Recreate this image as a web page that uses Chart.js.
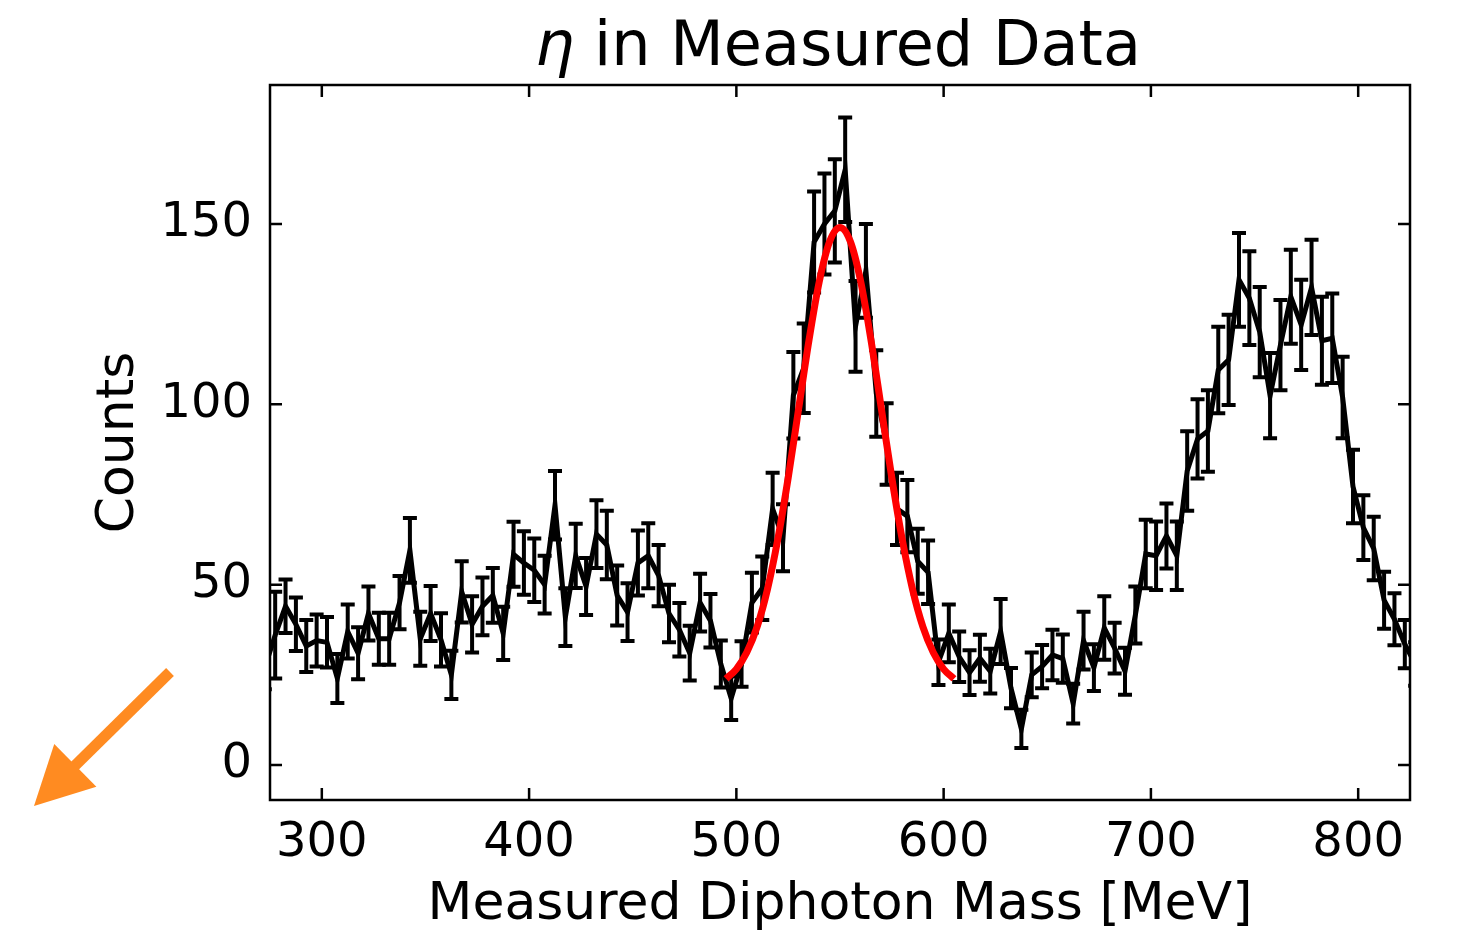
<!DOCTYPE html>
<html>
<head>
<meta charset="utf-8">
<script src="https://cdn.jsdelivr.net/npm/chart.js@4.4.1/dist/chart.umd.min.js"></script>
<style>
  html, body { margin: 0; padding: 0; background: #fff; }
  #wrap { width: 1470px; height: 933px; }
</style>
</head>
<body>
<div id="wrap"><canvas id="etaChart" width="1470" height="933"></canvas></div>
<script>
// bin centres [MeV] (first and last bins sit just outside the axis range)
const massBins = [
    272.5, 277.5, 282.5, 287.5, 292.5, 297.5, 302.5, 307.5, 312.5, 317.5,
    322.5, 327.5, 332.5, 337.5, 342.5, 347.5, 352.5, 357.5, 362.5, 367.5,
    372.5, 377.5, 382.5, 387.5, 392.5, 397.5, 402.5, 407.5, 412.5, 417.5,
    422.5, 427.5, 432.5, 437.5, 442.5, 447.5, 452.5, 457.5, 462.5, 467.5,
    472.5, 477.5, 482.5, 487.5, 492.5, 497.5, 502.5, 507.5, 512.5, 517.5,
    522.5, 527.5, 532.5, 537.5, 542.5, 547.5, 552.5, 557.5, 562.5, 567.5,
    572.5, 577.5, 582.5, 587.5, 592.5, 597.5, 602.5, 607.5, 612.5, 617.5,
    622.5, 627.5, 632.5, 637.5, 642.5, 647.5, 652.5, 657.5, 662.5, 667.5,
    672.5, 677.5, 682.5, 687.5, 692.5, 697.5, 702.5, 707.5, 712.5, 717.5,
    722.5, 727.5, 732.5, 737.5, 742.5, 747.5, 752.5, 757.5, 762.5, 767.5,
    772.5, 777.5, 782.5, 787.5, 792.5, 797.5, 802.5, 807.5, 812.5, 817.5,
    822.5, 827.5
];

// counts per bin
const counts = [
    27, 36, 44, 39, 33, 34.5, 34, 24, 37, 31,
    42, 35, 35, 45, 59.5, 35, 42, 34.7, 25, 48,
    39, 44, 47, 36.5, 58.4, 56, 54, 50, 72, 41,
    58, 49.5, 64, 61, 47, 42.4, 56, 58, 52.5, 42,
    37.5, 31, 45, 40, 28, 18.5, 28, 45, 49, 71,
    63, 102.5, 110, 145, 150, 153.6, 165, 121.6, 137, 103,
    89, 71, 69, 56.5, 53.4, 28.5, 36.5, 30, 25.6, 29.6,
    26, 37, 21.3, 10, 25, 27.3, 30.5, 29.5, 17, 34.5,
    27, 38, 32.4, 26, 41.6, 58.5, 58, 63.5, 58, 81.5,
    90.4, 92.6, 109.5, 112.3, 134.5, 129.4, 120, 102.4, 116.4, 129.8,
    122, 132.4, 117.6, 118.3, 101.9, 77.2, 65.8, 60, 45.7, 40.4,
    33.5, 28
];

// error bar half lengths
const countErrors = [
    6, 12, 7.4, 7.4, 7.2, 7.2, 7, 6.8, 7.5, 7.2,
    7.5, 7.2, 7.2, 7.4, 9, 7.5, 7.6, 7.4, 6.7, 8.5,
    7.8, 8, 7.6, 7.4, 9, 8.8, 8.8, 8, 9.5, 8,
    8.9, 7.9, 9.4, 9.5, 8.3, 8, 9, 9, 8.5, 8,
    7.4, 7.6, 8, 7.4, 6.5, 6, 6.3, 8.3, 8.8, 10,
    9.3, 12, 12.4, 14, 14, 14.3, 14.5, 12.6, 13, 12,
    11.3, 10, 10, 9, 8.8, 6.3, 8, 7, 6.2, 6.5,
    6.2, 9, 5.6, 5.3, 6.2, 6, 7, 6.7, 5.5, 8,
    6.5, 8.8, 7, 6.5, 7.9, 9.5, 9.5, 9, 9.5, 11,
    11, 11.3, 12, 12.5, 13, 13, 12.5, 11.8, 12.5, 13,
    12.5, 13.2, 12.2, 12.4, 11.3, 10.2, 9, 8.8, 7.9, 7.2,
    6.7, 6
];

// gaussian fit
const fitMass = [495, 500, 505, 510, 515, 520, 525, 530, 535, 540, 545, 550,
                 555, 560, 565, 570, 575, 580, 585, 590, 595, 600, 605];
const fitCounts = [23.9, 26.6, 31.2, 38.3, 48.7, 62.6, 79.6, 98.6, 117.6, 134, 145.1, 149,
                   145.1, 134, 117.6, 98.6, 79.6, 62.6, 48.7, 38.3, 31.2, 26.6, 23.9];

const xTickValues = [300, 400, 500, 600, 700, 800];
const yTickValues = [0, 50, 100, 150];

const FONT = "'DejaVu Sans', 'Liberation Sans', sans-serif";
Chart.defaults.font.family = FONT;
Chart.defaults.color = '#000';

// error bars, drawn right after the black line
const errorBarPlugin = {
    id: 'errorBars',
    afterDatasetDraw(chart, args) {
        if (args.index !== 0) return;
        const { ctx, chartArea, scales: { x, y } } = chart;
        ctx.save();
        ctx.beginPath();
        ctx.rect(chartArea.left, chartArea.top, chartArea.right - chartArea.left, chartArea.bottom - chartArea.top);
        ctx.clip();
        ctx.strokeStyle = '#000';
        ctx.lineWidth = 4;
        massBins.forEach((m, i) => {
            const px = x.getPixelForValue(m);
            const top = y.getPixelForValue(counts[i] + countErrors[i]);
            const bot = y.getPixelForValue(counts[i] - countErrors[i]);
            ctx.beginPath();
            ctx.moveTo(px, top);
            ctx.lineTo(px, bot);
            ctx.moveTo(px - 7, top);
            ctx.lineTo(px + 7, top);
            ctx.moveTo(px - 7, bot);
            ctx.lineTo(px + 7, bot);
            ctx.stroke();
        });
        ctx.restore();
    }
};

// frame, inward ticks on all four sides, title and the orange arrow
const framePlugin = {
    id: 'frame',
    afterDraw(chart) {
        const { ctx, chartArea: a, scales: { x, y } } = chart;
        ctx.save();
        ctx.strokeStyle = '#000';
        ctx.lineWidth = 2.5;
        ctx.strokeRect(a.left, a.top, a.right - a.left, a.bottom - a.top);

        const tickLen = 12;
        ctx.beginPath();
        xTickValues.forEach(v => {
            const px = x.getPixelForValue(v);
            ctx.moveTo(px, a.bottom);
            ctx.lineTo(px, a.bottom - tickLen);
            ctx.moveTo(px, a.top);
            ctx.lineTo(px, a.top + tickLen);
        });
        yTickValues.forEach(v => {
            const py = y.getPixelForValue(v);
            ctx.moveTo(a.left, py);
            ctx.lineTo(a.left + tickLen, py);
            ctx.moveTo(a.right, py);
            ctx.lineTo(a.right - tickLen, py);
        });
        ctx.stroke();

        // title: italic eta + upright text
        ctx.fillStyle = '#000';
        ctx.textBaseline = 'alphabetic';
        ctx.textAlign = 'left';
        ctx.font = "italic 62px " + FONT;
        const etaW = ctx.measureText('η').width;
        ctx.font = "62px " + FONT;
        const rest = ' in Measured Data';
        const restW = ctx.measureText(rest).width;
        const startX = (a.left + a.right) / 2 - (etaW + restW) / 2 - 2;
        ctx.font = "italic 62px " + FONT;
        ctx.fillText('η', startX, 65);
        ctx.font = "62px " + FONT;
        ctx.fillText(rest, startX + etaW, 65);

        // orange arrow in the lower left corner
        const tail = { x: 170, y: 672 };
        const tip = { x: 34, y: 806 };
        const dx = tip.x - tail.x, dy = tip.y - tail.y;
        const len = Math.hypot(dx, dy);
        const ux = dx / len, uy = dy / len;
        const headLen = 58, headHalf = 30;
        const baseX = tip.x - ux * headLen, baseY = tip.y - uy * headLen;
        ctx.strokeStyle = '#ff8b21';
        ctx.fillStyle = '#ff8b21';
        ctx.lineWidth = 11;
        ctx.beginPath();
        ctx.moveTo(tail.x, tail.y);
        ctx.lineTo(baseX + ux * 4, baseY + uy * 4);
        ctx.stroke();
        ctx.beginPath();
        ctx.moveTo(tip.x, tip.y);
        ctx.lineTo(baseX - uy * headHalf, baseY + ux * headHalf);
        ctx.lineTo(baseX + uy * headHalf, baseY - ux * headHalf);
        ctx.closePath();
        ctx.fill();
        ctx.restore();
    }
};

const ctx = document.getElementById('etaChart').getContext('2d');
const etaChart = new Chart(ctx, {
    type: 'line',
    data: {
        datasets: [{
            label: 'Measured',
            data: massBins.map((m, i) => ({ x: m, y: counts[i] })),
            borderColor: '#000',
            borderWidth: 5,
            pointRadius: 0,
            tension: 0,
            fill: false,
            order: 1
        }, {
            label: 'Fit',
            data: fitMass.map((m, i) => ({ x: m, y: fitCounts[i] })),
            borderColor: '#ff0000',
            borderWidth: 7,
            pointRadius: 0,
            cubicInterpolationMode: 'monotone',
            fill: false,
            order: 0
        }]
    },
    options: {
        responsive: false,
        animation: false,
        devicePixelRatio: 1,
        layout: {
            padding: { top: 85, right: 60, left: 0, bottom: 0 }
        },
        plugins: {
            legend: { display: false },
            tooltip: { enabled: false },
            title: { display: false }
        },
        scales: {
            x: {
                type: 'linear',
                min: 275,
                max: 825,
                afterBuildTicks: scale => {
                    scale.ticks = xTickValues.map(v => ({ value: v }));
                },
                afterFit: scale => {
                    scale.height = 133;
                },
                grid: { display: false, drawTicks: false },
                border: { display: false },
                ticks: {
                    font: { size: 48 },
                    color: '#000',
                    padding: 15,
                    maxRotation: 0,
                    autoSkip: false
                },
                title: {
                    display: true,
                    text: 'Measured Diphoton Mass [MeV]',
                    font: { size: 52 },
                    color: '#000',
                    padding: { top: 0, bottom: -4 }
                }
            },
            y: {
                type: 'linear',
                min: -9.7,
                max: 188.5,
                afterBuildTicks: scale => {
                    scale.ticks = yTickValues.map(v => ({ value: v }));
                },
                afterFit: scale => {
                    scale.width = 270;
                },
                grid: { display: false, drawTicks: false },
                border: { display: false },
                ticks: {
                    font: { size: 48 },
                    color: '#000',
                    padding: 18
                },
                title: {
                    display: true,
                    text: 'Counts',
                    font: { size: 52 },
                    color: '#000',
                    padding: { top: 88, bottom: 0 }
                }
            }
        }
    },
    plugins: [errorBarPlugin, framePlugin]
});
</script>
</body>
</html>
